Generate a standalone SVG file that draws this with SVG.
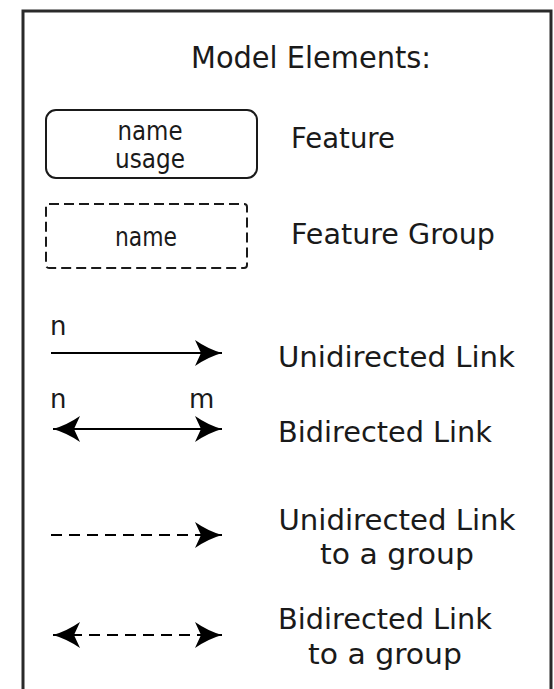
<svg xmlns="http://www.w3.org/2000/svg" width="554" height="689" viewBox="0 0 554 689">
<style>
  .lbl { font-family: "DejaVu Sans", "Liberation Sans", sans-serif; fill: #1a1a1a; }
  .big { font-size: 29px; }
  .small { font-size: 26px; }
  .box { fill: none; stroke: #1a1a1a; stroke-width: 2; }
  .link { fill: none; stroke: #000; stroke-width: 2; }
  .dash { stroke-dasharray: 11 7; }
</style>
<defs>
  <marker id="head" viewBox="0 0 28 26" refX="28" refY="13" markerWidth="28" markerHeight="26" markerUnits="userSpaceOnUse" orient="auto-start-reverse">
    <path d="M28,13 Q14,9 1,0 L7,13 L1,26 Q14,17 28,13 Z" fill="#000"/>
  </marker>
</defs>
<rect width="554" height="689" fill="#fff"/>
<path d="M23,700 V11 H551 V700" fill="none" stroke="#2a2a2a" stroke-width="3"/>

<g id="title">
  <text class="lbl" x="191" y="68" font-size="30" textLength="240" lengthAdjust="spacingAndGlyphs">Model Elements:</text>
</g>

<g id="feature">
  <rect class="box" x="46" y="110" width="211" height="68" rx="10"/>
  <text class="lbl small" x="150" y="140" text-anchor="middle" textLength="65" lengthAdjust="spacingAndGlyphs">name</text>
  <text class="lbl small" x="150" y="168" text-anchor="middle" textLength="70" lengthAdjust="spacingAndGlyphs">usage</text>
  <text class="lbl" x="291" y="148" font-size="28" textLength="104" lengthAdjust="spacingAndGlyphs">Feature</text>
</g>

<g id="feature-group">
  <rect class="box" x="46" y="204" width="201" height="64" rx="3" stroke-dasharray="10 5"/>
  <text class="lbl small" x="146" y="246" text-anchor="middle" textLength="62" lengthAdjust="spacingAndGlyphs">name</text>
  <text class="lbl" x="291" y="244" font-size="28" textLength="204" lengthAdjust="spacingAndGlyphs">Feature Group</text>
</g>

<g id="connectors">
  <line class="link" x1="51" y1="353" x2="222" y2="353" marker-end="url(#head)"/>
  <line class="link" x1="53" y1="429" x2="222" y2="429" marker-start="url(#head)" marker-end="url(#head)"/>
  <line class="link dash" x1="51" y1="535" x2="222" y2="535" marker-end="url(#head)"/>
  <line class="link dash" x1="53" y1="635" x2="222" y2="635" marker-start="url(#head)" marker-end="url(#head)"/>
</g>

<g id="unidirected-link">
  <text class="lbl small" x="50" y="335">n</text>
  <text class="lbl big" x="278" y="367" textLength="237" lengthAdjust="spacingAndGlyphs">Unidirected Link</text>
</g>

<g id="bidirected-link">
  <text class="lbl small" x="50" y="408">n</text>
  <text class="lbl small" x="189" y="408">m</text>
  <text class="lbl big" x="278" y="442" textLength="214" lengthAdjust="spacingAndGlyphs">Bidirected Link</text>
</g>

<g id="unidirected-group-link">
  <text class="lbl big" x="397" y="530" text-anchor="middle" textLength="237" lengthAdjust="spacingAndGlyphs">Unidirected Link</text>
  <text class="lbl big" x="397" y="564" text-anchor="middle" textLength="154" lengthAdjust="spacingAndGlyphs">to a group</text>
</g>

<g id="bidirected-group-link">
  <text class="lbl big" x="385" y="629" text-anchor="middle" textLength="214" lengthAdjust="spacingAndGlyphs">Bidirected Link</text>
  <text class="lbl big" x="385" y="664" text-anchor="middle" textLength="154" lengthAdjust="spacingAndGlyphs">to a group</text>
</g>
</svg>
